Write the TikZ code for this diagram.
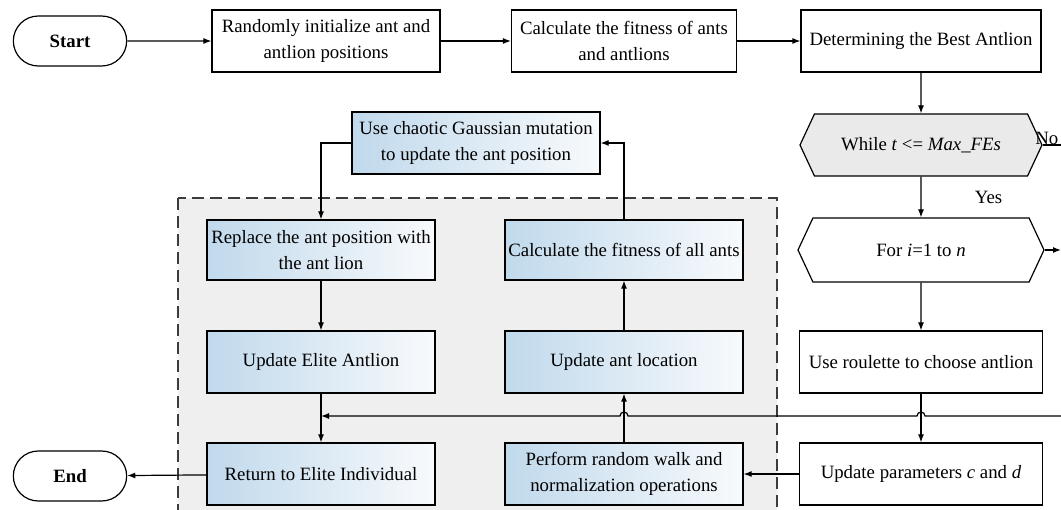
\documentclass[tikz,border=0pt]{standalone}
\usepackage{fontspec}
\setmainfont{Liberation Serif}
\usepackage{tikz}
\usetikzlibrary{positioning,calc,shapes.misc,shapes.symbols,arrows.meta}
\definecolor{loopfill}{HTML}{EFEFEF}
\definecolor{loopline}{HTML}{3C3C3C}
\definecolor{condfill}{HTML}{EAEAEA}
\definecolor{blueleft}{HTML}{C0D9EC}
\definecolor{bluemid}{HTML}{EDF4FA}
\definecolor{blueright}{HTML}{F8FAFC}
\newcommand{\figfont}{\fontsize{18.8}{26}\selectfont}
\tikzset{
  % --- plain process boxes ---
  proc/.style={draw=black, line width=1.2pt, fill=white, align=center,
               inner sep=2pt, minimum height=62pt, font=\figfont},
  % --- shaded boxes of the loop body ---
  procb/.style={proc, left color=blueleft, middle color=bluemid,
                right color=blueright},
  % --- start / end terminals ---
  term/.style={rounded rectangle, draw=black, line width=1.2pt, fill=white,
               minimum width=120pt, minimum height=50pt,
               font=\figfont\bfseries},
  % --- loop heads (hexagons) ---
  loophead/.style={signal, signal to=west and east, signal pointer angle=130,
                   draw=black, line width=1.2pt, fill=white, font=\figfont,
                   minimum width=242pt, minimum height=62pt},
  flow/.style={-{Latex[length=8pt,width=6pt]}, line width=1.2pt, draw=black},
  loopbox/.style={draw=loopline, fill=loopfill, line width=1.3pt,
                  dash pattern=on 12pt off 6pt},
}

\begin{document}
\begin{tikzpicture}[x=1pt, y=1pt]
  \useasboundingbox (0,0) rectangle (1061,-510);
  \clip (0,0) rectangle (1061,-510);

  % --- loop body region ---
  \draw[loopbox] (178,-198) rectangle (777,-530);

  % --- top row ---
  \node[term] (start) at (70,-41) {Start};
  \node[proc, minimum width=228pt] (init) at (326,-41)
        {Randomly initialize ant and\\antlion positions};
  \node[proc, minimum width=225pt] (fitA) at (624,-41)
        {Calculate the fitness of ants\\and antlions};
  \node[proc, minimum width=240pt] (best) at (921,-41)
        {Determining the Best Antlion};

  % --- mutation step above the loop body ---
  \node[procb, minimum width=248pt] (mutate) at (476,-143)
        {Use chaotic Gaussian mutation\\to update the ant position};

  % --- right column: loop control ---
  \node[loophead, fill=condfill] (while) at (921,-145)
        {While \textit{t} <= \textit{Max\_FEs}};
  \node[loophead, minimum width=246pt, minimum height=64pt] (for) at (921,-250)
        {For \textit{i}=1 to \textit{n}};
  \node[proc, minimum width=243pt] (roulette) at (921,-362)
        {Use roulette to choose antlion};
  \node[proc, minimum width=243pt] (params) at (921,-474)
        {Update parameters \textit{c} and \textit{d}};

  % --- middle column ---
  \node[procb, minimum width=238pt, minimum height=60pt] (fitall) at (624,-250)
        {Calculate the fitness of all ants};
  \node[procb, minimum width=238pt] (move) at (624,-362) {Update ant location};
  \node[procb, minimum width=238pt] (walk) at (624,-474)
        {Perform random walk and\\normalization operations};

  % --- left column ---
  \node[procb, minimum width=228pt, minimum height=60pt] (replace) at (321,-250)
        {Replace the ant position with\\the ant lion};
  \node[procb, minimum width=228pt] (elite) at (321,-362) {Update Elite Antlion};
  \node[procb, minimum width=228pt] (ret) at (321,-474) {Return to Elite Individual};
  \node[term] (stop) at (70,-476) {End};

  % --- free ends at the right border ---
  \coordinate (noout)  at (1061,-145);
  \coordinate (forout) at (1061,-250);
  \coordinate (loopin) at (1061,-416);
  \coordinate (hopC) at (loopin -| roulette.south);
  \coordinate (hopB) at (loopin -| walk.north);

  % --- main flow ---
  \draw[flow] (start) -- (init);
  \draw[flow] (init) -- (fitA);
  \draw[flow] (fitA) -- (best);
  \draw[flow] (best) -- (while);
  \draw[flow] (while) -- node[midway, right=50pt, font=\figfont] {Yes} (for);
  \draw[line width=1.2pt] (while.east) --
        node[pos=0, above right, inner sep=0pt, xshift=-8pt, font=\figfont] {No} (noout);
  \draw[flow] (for.east) -- (forout);
  \draw[flow] (for) -- (roulette);
  \draw[flow] (roulette) -- (params);
  \draw[flow] (params) -- (walk);
  \draw[flow] (walk) -- (move);
  \draw[flow] (move) -- (fitall);
  \draw[flow] (fitall.north) |- (mutate.east);
  \draw[flow] (mutate.west) -| (replace.north);
  \draw[flow] (replace) -- (elite);
  \draw[flow] (elite) -- (ret);
  \draw[flow] (ret) -- (stop);
  % --- loop return, hopping over the verticals ---
  \draw[flow] (loopin) -- ($(hopC)+(4,0)$) arc[start angle=0, end angle=180, radius=4]
        -- ($(hopB)+(4,0)$) arc[start angle=0, end angle=180, radius=4]
        -- (loopin -| elite.south);
\end{tikzpicture}
\end{document}
